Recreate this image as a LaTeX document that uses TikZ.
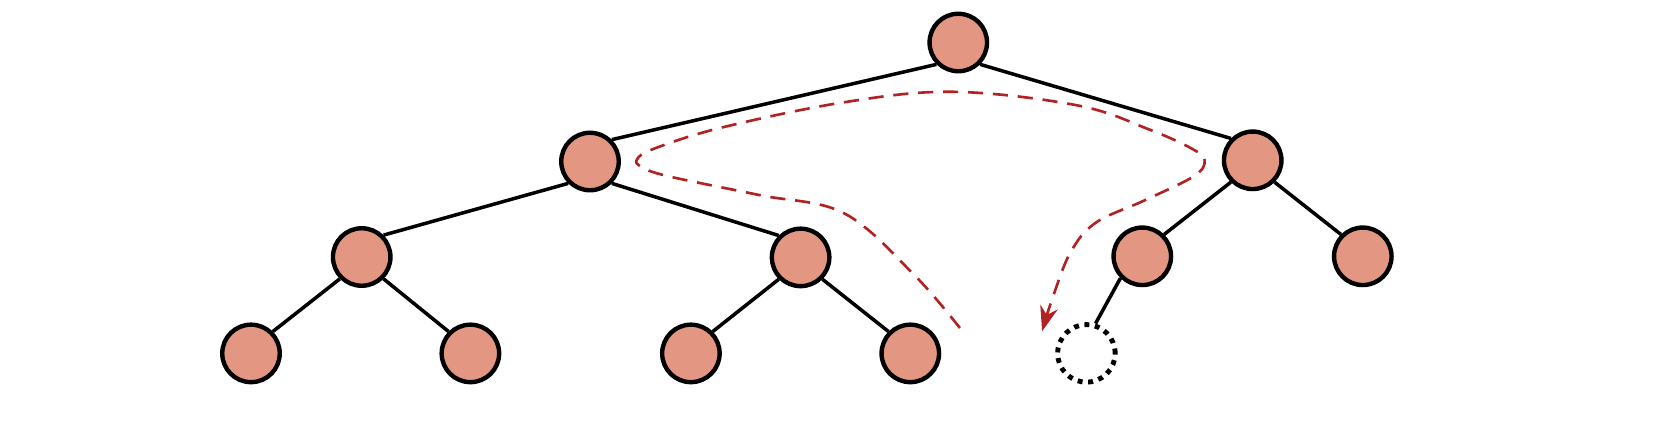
\documentclass[tikz,border=0pt]{standalone}
\usepackage{tikz}
\usetikzlibrary{arrows.meta}
\definecolor{nodefill}{RGB}{227,150,130}
\definecolor{trailred}{RGB}{178,34,34}

\begin{document}
\begin{tikzpicture}[
		vertex/.style={circle,draw,line width=1.25pt,fill=nodefill,minimum size=0.575cm,inner sep=0pt},
		hole/.style={circle,draw,line width=1.4pt,dash pattern=on 1.4pt off 1.6pt,minimum size=0.575cm,inner sep=0pt},
		branch/.style={line width=1pt},
		trail/.style={trailred,line width=0.75pt,dash pattern=on 4.3pt off 2.8pt,-{Stealth[length=2.5mm,width=1.8mm]}}]
		\useasboundingbox (0,0) rectangle (16.54,4.44);
		% nodes, level by level
		\node[vertex](z) at (9.583,4.015){};
		\node[vertex](a) at (5.900,2.825){};
		\node[vertex](b) at (12.527,2.837){};
		\node[vertex](aa) at (3.617,1.870){};
		\node[vertex](ab) at (8.006,1.866){};
		\node[vertex](ba) at (11.423,1.877){};
		\node[vertex](bb) at (13.628,1.877){};
		\node[vertex](aaa) at (2.510,0.906){};
		\node[vertex](aab) at (4.704,0.906){};
		\node[vertex](aba) at (6.909,0.906){};
		\node[vertex](abb) at (9.103,0.906){};
		\node[hole](baa) at (10.864,0.906){};
		% edges
		\draw[branch] (z.south west) -- (a.north east);
		\draw[branch] (z.south east) -- (b.north west);
		\draw[branch] (a.south west) -- (aa.north east);
		\draw[branch] (a.south east) -- (ab.north west);
		\draw[branch] (b.south west) -- (ba.north east);
		\draw[branch] (b.south east) -- (bb.north west);
		\draw[branch] (aa.south west) -- (aaa.north east);
		\draw[branch] (aa.south east) -- (aab.north west);
		\draw[branch] (ab.south west) -- (aba.north east);
		\draw[branch] (ab.south east) -- (abb.north west);
		\draw[branch] (ba.south west) -- (baa.73);
		% dashed walk around the left subtree
		\coordinate (walk start) at (9.599,1.160);
		\coordinate (walk end) at (10.421,1.128);
		\draw[trail] plot[smooth,tension=0.6] coordinates {(walk start) (9.135,1.698) (8.438,2.309) (7.595,2.489) (6.677,2.679) (6.413,2.773) (6.371,2.847) (6.540,2.953) (7.215,3.164) (8.438,3.417) (9.535,3.522) (10.780,3.385) (11.497,3.143) (11.919,2.953) (12.046,2.837) (11.940,2.679) (11.445,2.436) (10.959,2.214) (10.706,1.919) (10.527,1.465) (walk end)};
	\end{tikzpicture}
\end{document}
